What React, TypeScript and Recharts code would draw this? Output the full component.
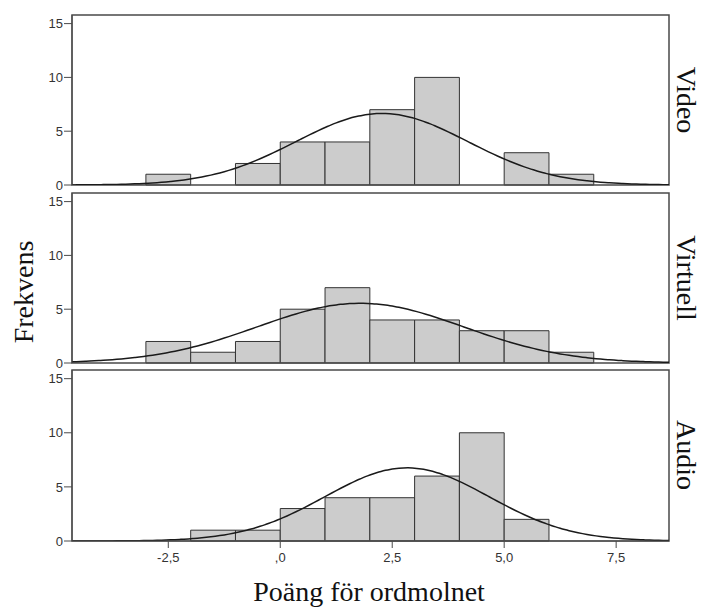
import React from "react";
import { ComposedChart, Line, XAxis, YAxis, ReferenceArea } from "recharts";

// histogram bins (width 1), left edges
const binStarts = [-3, -2, -1, 0, 1, 2, 3, 4, 5, 6];
const videoCounts = [1, 0, 2, 4, 4, 7, 10, 0, 3, 1];
const virtuellCounts = [2, 1, 2, 5, 7, 4, 4, 3, 3, 1];
const audioCounts = [0, 1, 1, 3, 4, 4, 6, 10, 2, 0];

// fitted normal curve per group: mean, sd, n
const videoFit = { mean: 2.27, sd: 1.92, n: 32 };
const virtuellFit = { mean: 1.79, sd: 2.3, n: 32 };
const audioFit = { mean: 2.83, sd: 1.83, n: 31 };

const xDomain: [number, number] = [-4.65, 8.68];
const yDomain: [number, number] = [0, 15.8];
const yTicks = [0, 5, 10, 15];
const xTicks = [-2.5, 0, 2.5, 5, 7.5];
const xTickLabels = ["-2,5", ",0", "2,5", "5,0", "7,5"];

const FRAME = "#4a4a4a";
const TICK_STYLE = { fontSize: 13, fill: "#333", fontFamily: "Arial, 'Liberation Sans', sans-serif" };
const SERIF = "'Times New Roman', 'Liberation Serif', serif";

function normalCurve(fit: { mean: number; sd: number; n: number }) {
  const pts: { x: number; y: number }[] = [];
  for (let i = 0; i <= 134; i++) {
    const x = Math.min(xDomain[0] + i * 0.1, xDomain[1]);
    const z = (x - fit.mean) / fit.sd;
    pts.push({ x, y: (fit.n / (fit.sd * Math.sqrt(2 * Math.PI))) * Math.exp(-0.5 * z * z) });
  }
  return pts;
}

type PanelProps = {
  counts: number[];
  fit: { mean: number; sd: number; n: number };
  top: number;
  height: number;
  marginTop: number;
  marginBottom: number;
  showX?: boolean;
};

function Panel({ counts, fit, top, height, marginTop, marginBottom, showX }: PanelProps) {
  const curve = normalCurve(fit);
  return (
    <div style={{ position: "absolute", left: 0, top }}>
      <ComposedChart
        width={705}
        height={height}
        data={curve}
        margin={{ top: marginTop, right: 36, left: 0, bottom: marginBottom }}
      >
        <XAxis
          type="number"
          dataKey="x"
          domain={xDomain}
          allowDataOverflow
          hide={!showX}
          ticks={xTicks}
          tickFormatter={(v: number) => xTickLabels[xTicks.indexOf(v)] ?? String(v)}
          tick={TICK_STYLE}
          tickSize={7}
          tickMargin={5}
          height={30}
          stroke={FRAME}
          interval={0}
        />
        <YAxis
          type="number"
          domain={yDomain}
          allowDataOverflow
          ticks={yTicks}
          tick={TICK_STYLE}
          tickSize={8}
          tickMargin={1}
          width={72}
          stroke={FRAME}
          interval={0}
        />
        {binStarts.map((b, i) =>
          counts[i] > 0 ? (
            <ReferenceArea
              key={b}
              x1={b}
              x2={b + 1}
              y1={0}
              y2={counts[i]}
              fill="#cccccc"
              fillOpacity={1}
              stroke="#333"
              strokeWidth={1}
            />
          ) : null
        )}
        <ReferenceArea
          x1={xDomain[0]}
          x2={xDomain[1]}
          y1={yDomain[0]}
          y2={yDomain[1]}
          fill="none"
          stroke={FRAME}
          strokeWidth={1.5}
        />
        <Line
          type="monotone"
          dataKey="y"
          stroke="#1a1a1a"
          strokeWidth={1.5}
          dot={false}
          isAnimationActive={false}
        />
      </ComposedChart>
    </div>
  );
}

export default function App() {
  return (
    <div style={{ position: "absolute", left: 0, top: 0, width: 705, height: 608, background: "#fff" }}>
      <Panel counts={videoCounts} fit={videoFit} top={0} height={196} marginTop={15} marginBottom={11} />
      <Panel counts={virtuellCounts} fit={virtuellFit} top={186} height={188} marginTop={7} marginBottom={11} />
      <Panel counts={audioCounts} fit={audioFit} top={364} height={244} marginTop={6} marginBottom={37} showX />
      <svg
        width={705}
        height={608}
        style={{ position: "absolute", left: 0, top: 0, pointerEvents: "none" }}
      >
        <g fontFamily={SERIF} fontSize={28} fill="#111">
          <text x={677} y={100} textAnchor="middle" transform="rotate(90 677 100)">Video</text>
          <text x={677} y={278} textAnchor="middle" transform="rotate(90 677 278)">Virtuell</text>
          <text x={677} y={455} textAnchor="middle" transform="rotate(90 677 455)">Audio</text>
          <text x={33} y={292} textAnchor="middle" transform="rotate(-90 33 292)">Frekvens</text>
          <text x={369} y={601} textAnchor="middle">Poäng för ordmolnet</text>
        </g>
      </svg>
    </div>
  );
}
